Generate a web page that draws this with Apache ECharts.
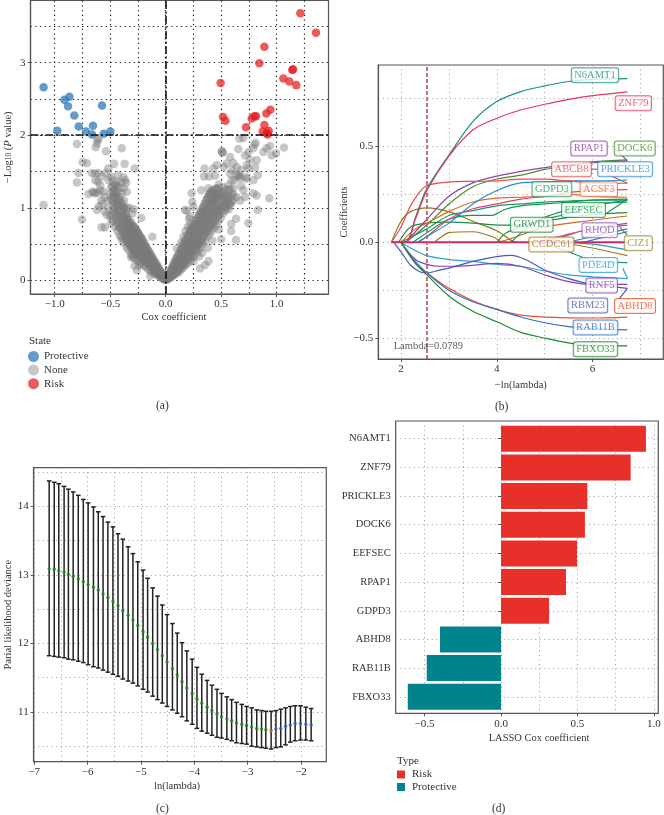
<!DOCTYPE html>
<html><head><meta charset="utf-8">
<style>html,body{margin:0;padding:0;background:#fff}#c{width:664px;height:815px}</style>
<script src="https://cdn.jsdelivr.net/npm/echarts@6/dist/echarts.min.js"></script>
</head><body><div id="c"></div>
<script>
const SERIF = '"Liberation Serif","DejaVu Serif",serif';

// ---------- (a) volcano ----------
const protectivePts = [[-1.10,2.66],[-.976,2.06],[-.913,2.49],[-.868,2.53],[-.88,2.40],[-.823,2.27],[-.784,2.12],[-.718,2.05],[-.655,2.13],[-.664,2.01],[-.574,2.41],[-.559,2.02],[-.498,2.05]];
const riskPts = [[1.213,3.68],[1.354,3.41],[.889,3.22],[.844,2.99],[1.147,2.91],[1.141,2.90],[1.06,2.78],[1.114,2.74],[1.177,2.69],[.495,2.72],[.943,2.35],[.907,2.30],[.517,2.25],[.538,2.20],[.775,2.23],[.799,2.26],[.814,2.26],[.724,2.11],[.889,2.14],[.928,2.06],[.874,2.05],[.919,2.01],[.91,2.03]];
const noneLeftRows = [[-.01,[.01,.02,.03]],[-.02,[.02,.04,.06]],[-.03,[.03,.06,.08]],[-.04,[.05,.08,.11]],[-.05,[.06,.1,.13]],[-.06,[.08,.12,.16]],[-.07,[.08,.13,.18]],[-.08,[.1,.15,.2]],[-.09,[.12,.18,.23]],[-.1,[.13,.2,.25]],[-.11,[.14,.22,.28]],[-.12,[.16,.24,.3]],[-.13,[.18,.26,.33]],[-.14,[.2,.29,.36]],[-.15,[.22,.31,.39]],[-.16,[.24,.33,.41]],[-.17,[.25,.36,.44]],[-.18,[.27,.38,.47]],[-.19,[.26,.33,.4,.49]],[-.2,[.28,.36,.44,.52]],[-.21,[.3,.38,.46,.55]],[-.22,[.32,.41,.49,.58]],[-.23,[.34,.43,.52,.6]],[-.24,[.36,.45,.54,.63]],[-.25,[.33,.4,.48,.56,.66]],[-.26,[.35,.43,.51,.59,.68]],[-.27,[.38,.46,.54,.62,.7]],[-.28,[.4,.48,.56,.64,.73]],[-.29,[.42,.5,.58,.67,.75]],[-.3,[.36,.44,.53,.61,.7]],[-.31,[.46,.56,.64,.73,.8]],[-.32,[.48,.58,.67,.76]],[-.33,[.5,.6,.7,.79]],[-.34,[.52,.63,.73,.83]],[-.35,[.55,.66,.76,.87]],[-.36,[.58,.69,.8,.92]],[-.37,[.6,.72,.84,.98]],[-.38,[.65,.78,.9]],[-.39,[.7,.85,1.0]],[-.4,[.72,.88,1.05]],[-.42,[.82,.95,1.1]],[-.44,[.9,1.05,1.15]],[-.45,[.85,1.2]],[-.46,[1.0,1.08,1.28]],[-.47,[.95,1.15]],[-.48,[1.1,1.3]]];
const noneLeftExtra = [[-.015,[.015,.05]],[-.035,[.04,.1]],[-.055,[.05,.09,.15]],[-.075,[.07,.11,.17,.21]],[-.095,[.09,.15,.2,.26]],[-.115,[.1,.18,.25,.31]],[-.135,[.13,.21,.28,.36]],[-.155,[.15,.24,.32,.41]],[-.175,[.18,.27,.35,.45]],[-.195,[.2,.29,.38,.47,.53]],[-.215,[.22,.32,.41,.5,.58]],[-.235,[.25,.34,.44,.54,.62]],[-.255,[.27,.37,.47,.57,.67]],[-.275,[.3,.4,.5,.6,.7]],[-.295,[.32,.43,.53,.64,.74]],[-.315,[.36,.47,.58,.68,.78]],[-.335,[.42,.52,.63,.74,.84]],[-.355,[.46,.58,.68,.8,.9,1.0]],[-.375,[.52,.64,.76,.88,1.0,1.1]],[-.395,[.56,.7,.82,.95,1.08,1.2]],[-.415,[.62,.76,.9,1.02,1.15,1.28]],[-.435,[.68,.82,.96,1.1,1.22]],[-.455,[.74,.92,1.05,1.18,1.32]],[-.475,[.82,1.0,1.2]],[-.49,[.9,1.12,1.28]]];
const noneLeftSparse = [[-.80,1.88],[-.615,1.93],[-.604,1.95],[-.62,1.885],[-.63,1.835],[-.538,1.78],[-.396,1.82],[-.748,1.63],[-.71,1.615],[-.465,1.605],[-.37,1.605],[-.517,1.54],[-.28,1.54],[-.787,1.48],[-.80,1.35],[-1.10,1.04],[-.754,.84],[-.577,.73],[-.547,.73],[-.665,1.48],[-.635,1.47],[-.61,1.48],[-.635,1.38],[-.61,1.36],[-.575,1.43],[-.54,1.48],[-.495,1.43],[-.515,1.38],[-.59,1.31],[-.695,1.19],[-.66,1.22],[-.645,1.21],[-.635,1.2],[-.615,1.21],[-.59,1.24],[-.56,1.22],[-.44,1.3],[-.365,1.38],[-.355,1.34],[-.38,1.27],[-.35,1.22],[-.44,1.36],[-.46,1.24],[-.43,1.03],[-.55,.95],[-.52,1.0],[-.5,.88],[-.49,.8],[-.57,1.05],[-.53,.9],[-.33,1.0],[-.29,.98],[-.22,.86],[-.3,.92],[-.12,.6],[-.26,.14],[-.28,.2],[-.31,.32],[-.14,.06],[-.24,.22],[-.4,.6],[-.42,.72],[-.44,.78],[-.58,1.1],[-.6,1.02],[-.62,.97],[-.52,1.1],[-.55,1.15],[-.5,1.2],[-.48,1.38],[-.43,1.45],[-.4,1.35],[-.38,1.42]];
const noneRightRows = [[.01,[.01,.02,.03]],[.02,[.02,.04,.06]],[.03,[.03,.06,.09]],[.04,[.05,.09,.12]],[.05,[.06,.1,.15]],[.06,[.07,.13,.18]],[.07,[.08,.15,.21]],[.08,[.1,.17,.24]],[.09,[.11,.19,.27]],[.1,[.12,.21,.3]],[.11,[.14,.23,.33]],[.12,[.15,.26,.36]],[.13,[.17,.28,.39]],[.14,[.19,.31,.42]],[.15,[.2,.33,.45]],[.16,[.22,.36,.48]],[.17,[.24,.38,.51]],[.18,[.26,.41,.54]],[.19,[.28,.43,.57]],[.2,[.3,.38,.46,.6]],[.21,[.32,.41,.49,.63]],[.22,[.34,.43,.52,.66]],[.23,[.36,.46,.55,.68]],[.24,[.38,.48,.58,.7]],[.25,[.4,.51,.61,.73]],[.26,[.42,.53,.64,.76]],[.27,[.44,.56,.67,.79]],[.28,[.46,.58,.7,.82]],[.29,[.48,.61,.73,.85]],[.3,[.5,.63,.76,.88]],[.31,[.52,.66,.79,.91]],[.32,[.54,.68,.82,.95]],[.33,[.56,.71,.85,.98]],[.34,[.6,.74,.88,1.01]],[.35,[.63,.77,.91,1.05]],[.36,[.66,.8,.94,1.08]],[.37,[.68,.83,.97,1.12]],[.38,[.7,.86,1.0,1.15]],[.39,[.72,.88,1.03,1.18]],[.4,[.74,.9,1.05,1.2]],[.41,[.76,.92,1.07,1.22]],[.42,[.78,.94,1.09,1.24]],[.43,[.8,.96,1.1,1.2]],[.44,[.82,.98,1.12]],[.45,[.85,1.0,1.14]],[.46,[.88,1.02,1.16]],[.47,[.9,1.04,1.18]],[.48,[.92,1.06,1.2]],[.5,[.95,1.1,1.22]],[.52,[1.0,1.12]],[.54,[1.05,1.15]],[.56,[1.1,1.18]]];
const noneRightExtra = [[.015,[.015,.05]],[.035,[.04,.11]],[.055,[.05,.11,.17]],[.075,[.07,.13,.2,.25]],[.095,[.09,.17,.24,.31]],[.115,[.11,.2,.28,.36]],[.135,[.14,.24,.33,.43]],[.155,[.17,.28,.38,.5]],[.175,[.2,.32,.44,.56]],[.195,[.23,.35,.49,.62]],[.215,[.26,.4,.54,.68]],[.235,[.3,.44,.58,.73]],[.255,[.33,.48,.63,.78]],[.275,[.37,.52,.68,.84]],[.295,[.41,.56,.72,.9]],[.315,[.45,.6,.76,.94]],[.335,[.5,.66,.82,1.0]],[.355,[.55,.72,.88,1.06]],[.375,[.6,.78,.94,1.12]],[.395,[.64,.82,1.0,1.18]],[.415,[.68,.86,1.04,1.22]],[.435,[.72,.9,1.08,1.25]],[.455,[.76,.94,1.12,1.26]],[.475,[.82,.98,1.16,1.27]],[.495,[.86,1.02,1.18]],[.515,[.92,1.06,1.2]],[.535,[.96,1.1,1.24]],[.555,[1.0,1.14]],[.58,[1.04,1.16,1.26]],[.6,[1.08,1.2]]];
const noneRightSparse = [[.31,.165],[.355,.21],[.385,.265],[.1,.44],[.634,.555],[.59,.68],[.59,.775],[.634,.85],[.745,.79],[.83,.97],[.934,1.13],[.5,.565],[.175,.97],[.19,.96],[.235,1.2],[.24,1.08],[.22,.88],[.21,.85],[.25,1.01],[.32,1.24],[.35,1.54],[.43,1.54],[.46,1.59],[.345,1.43],[.39,1.43],[.445,1.44],[.385,1.27],[.46,1.27],[.515,1.77],[.505,1.78],[.51,1.76],[.525,1.565],[.55,1.61],[.58,1.7],[.58,1.47],[.595,1.38],[.565,1.31],[.61,1.27],[.64,1.45],[.66,1.45],[.675,1.41],[.655,1.43],[.73,1.4],[.79,1.38],[.805,1.56],[.82,1.655],[.745,1.54],[.73,1.59],[.64,1.56],[.664,1.95],[.7,1.96],[.655,1.81],[.745,1.77],[.715,1.72],[.79,1.82],[.81,1.895],[.8,1.87],[.88,1.77],[.91,1.82],[.94,1.85],[.955,1.725],[.994,1.75],[1.066,1.83],[.82,1.17],[.79,1.2],[.7,1.24],[.715,1.15],[.64,1.15],[.67,1.1],[.61,1.17],[.58,1.06],[.54,1.02],[.57,.98],[.6,1.1],[.56,1.25],[.52,1.28],[.48,1.32],[.68,1.3],[.72,1.42],[.62,1.38],[.68,1.52],[.76,1.66],[.83,1.45],[.6,1.52],[.61,1.62],[.16,.6],[.18,.68],[.2,.74],[.22,.78],[.14,.52],[.25,.26],[.3,.33],[.33,.38],[.38,.45],[.42,.55],[.48,.7]];

// ---------- (b) LASSO paths ----------
const pathN6AMT1 = [[1.8,0],[2.1,0],[2.3,.13],[2.54,.28],[3,.455],[3.5,.63],[4,.734],[4.5,.786],[5,.816],[5.5,.839],[6,.85],[6.725,.854]];
const pathZNF79 = [[1.8,0],[2.1,0],[2.3,.12],[2.54,.27],[3,.45],[3.5,.586],[4,.647],[4.5,.69],[5,.72],[5.5,.746],[6,.765],[6.725,.785]];
const pathABCB8 = [[1.8,0],[2,.08],[2.2,.19],[2.4,.265],[2.54,.295],[3,.315],[3.5,.318],[4,.32],[4.5,.33],[5,.33],[5.5,.32],[6,.31],[6.725,.308]];
const pathRPAP1 = [[2.1,0],[2.54,.12],[3,.24],[3.5,.31],[4,.345],[4.5,.37],[5,.39],[5.5,.405],[6,.415],[6.725,.425]];
const pathDOCK6 = [[2.1,0],[2.54,.09],[3,.2],[3.5,.29],[4,.33],[4.5,.35],[5,.38],[5.5,.40],[6,.42],[6.725,.43]];
const pathPRICKLE3 = [[2.35,0],[2.54,.03],[3,.10],[3.5,.2],[4,.27],[4.5,.31],[5,.315],[5.5,.32],[6,.32],[6.725,.325]];
const pathACSF3 = [[2,0],[2.3,.07],[2.54,.10],[3,.16],[3.5,.21],[4,.23],[4.5,.235],[5,.24],[5.5,.25],[6,.24],[6.725,.235]];
const pathPink = [[2.35,0],[2.54,.03],[3,.12],[3.5,.175],[4,.2],[4.5,.225],[5,.24],[5.5,.26],[6,.27],[6.725,.275]];
const pathGDPD3 = [[2,0],[2.54,.07],[3,.14],[3.5,.165],[4,.19],[4.5,.2],[5,.21],[5.5,.215],[6,.22],[6.725,.22]];
const pathEEFSEC = [[2.25,0],[2.54,.05],[3,.12],[3.5,.14],[3.9,.14],[4.15,.17],[4.5,.19],[5,.2],[5.5,.21],[6,.22],[6.725,.225]];
const pathGRWD1 = [[1.95,0],[2.2,.08],[2.54,.10],[3,.105],[3.5,.10],[4,.09],[4.5,.09],[5,.11],[5.5,.13],[6,.145],[6.725,.155]];
const pathOlive = [[1.8,0],[2,.11],[2.2,.16],[2.54,.18],[3,.16],[3.5,.11],[4,.06],[4.3,.01],[4.4,0]];
const pathBrownA = [[2.7,0],[2.85,.03],[3,.05],[3.5,.055],[3.9,.03],[4.1,0]];
const pathCCDC61 = [[5.3,0],[6,-.03],[6.725,-.07]];
const pathOrangeB = [[4,0],[4.3,.02],[5,.08],[6,.115],[6.725,.137]];
const pathGreenB = [[4,0],[4.2,.05],[4.6,.09],[5,.12],[5.5,.15],[6,.19],[6.725,.22]];
const pathGreenC = [[4.3,0],[4.6,.07],[5,.13],[5.5,.17],[6,.2],[6.725,.21]];
const pathRHOD = [[5,0],[5.4,.03],[5.8,.06],[6.725,.10]];
const pathPinkB = [[4.8,0],[5.3,.03],[5.8,.06],[6.725,.09]];
const pathTealB = [[5.5,0],[6,.03],[6.725,.07]];
const pathNavy = [[5.8,0],[6.725,.055]];
const pathTealC = [[5.5,0],[6,-.01],[6.725,-.04]];
const pathPDE4Dg = [[4.9,0],[5.5,-.05],[6,-.095],[6.725,-.106]];
const pathPDE4D = [[2,0],[2.2,-.03],[2.54,-.07],[3,-.09],[3.5,-.10],[4,-.115],[4.5,-.125],[5,-.15],[5.5,-.17],[6,-.18],[6.725,-.19]];
const pathRNF5 = [[2,0],[2.3,-.09],[2.54,-.115],[2.8,-.125],[3,-.125],[3.5,-.12],[4,-.11],[4.5,-.125],[5,-.17],[5.5,-.205],[6,-.22],[6.725,-.22]];
const pathRBM23 = [[1.85,0],[2,-.05],[2.2,-.12],[2.4,-.155],[2.54,-.16],[2.8,-.145],[3,-.135],[3.5,-.10],[4,-.075],[4.3,-.068],[4.6,-.09],[5,-.145],[5.5,-.19],[6,-.22],[6.725,-.24]];
const pathABHD8 = [[2,0],[2.3,-.11],[2.54,-.16],[3,-.24],[3.5,-.305],[4,-.35],[4.5,-.38],[5,-.39],[6,-.395],[6.725,-.39]];
const pathRAB11B = [[2,0],[2.3,-.10],[2.54,-.16],[3,-.25],[3.5,-.31],[4,-.35],[4.5,-.39],[5,-.42],[5.5,-.44],[6,-.45],[6.725,-.457]];
const pathFBXO33 = [[2,0],[2.3,-.11],[2.54,-.17],[3,-.28],[3.5,-.36],[4,-.415],[4.5,-.47],[5,-.50],[5.5,-.525],[6,-.54],[6.725,-.54]];
const pathZero = [[1.8,0],[6.725,0]];
const pathsB = [
 [pathOlive,'#8a7a1a'],[pathBrownA,'#a8741a'],[pathCCDC61,'#a8741a'],[pathOrangeB,'#d8641a'],[pathGreenB,'#2f8f3a'],[pathGreenC,'#1a9a5a'],[pathRHOD,'#8a5ab0'],[pathPinkB,'#e0407a'],[pathTealB,'#1a8aa8'],[pathNavy,'#3a5ab8'],[pathTealC,'#2a9ab0'],[pathPDE4Dg,'#1f9a6a'],
 [pathGRWD1,'#1e8a45'],[pathEEFSEC,'#0f9a4a'],[pathGDPD3,'#1a9a5a'],[pathPink,'#e0407a'],[pathACSF3,'#e8642a'],[pathPRICKLE3,'#2a8cd8'],[pathDOCK6,'#4a8a2a'],[pathRPAP1,'#8e44ad'],[pathABCB8,'#e84a4a'],[pathN6AMT1,'#1a9088'],[pathZNF79,'#e8365c'],
 [pathPDE4D,'#2ea0d8'],[pathRNF5,'#8a44a8'],[pathRBM23,'#4a58b8'],[pathABHD8,'#f0502a'],[pathRAB11B,'#2a70c8'],[pathFBXO33,'#1f8a2a']];
const leadersB = [[[6.5,.482],[6.725,.425],'#8e44ad'],[[6.29,.357],[6.725,.308],'#e84a4a'],[[5.98,.381],[6.1,.381],'#e84a4a'],[[6.63,-.136],[6.725,-.188],'#2ea0d8'],[[6.725,-.24],[6.54,-.30],'#4a58b8'],[[6.29,.151],[6.725,.224],'#0f9a4a'],[[6.56,.082],[6.725,.038],'#8a8a2a']];
const geneLabels = [['N6AMT1',6.05,.872,'#1a9088'],['ZNF79',6.85,.725,'#e8365c'],['RPAP1',5.925,.489,'#8e44ad'],['DOCK6',6.88,.489,'#4a8a2a'],['ABCB8',5.56,.381,'#e84a4a'],['PRICKLE3',6.68,.381,'#2a8cd8'],['GDPD3',5.15,.277,'#1a9a5a'],['ACSF3',6.13,.277,'#e8642a'],['EEFSEC',5.81,.169,'#0f9a4a'],['GRWD1',4.73,.092,'#1e8a45'],['RHOD',6.15,.063,'#8a5ab0'],['CIZ1',6.955,-.005,'#8a8a2a'],['CCDC61',5.14,-.012,'#a8741a'],['PDE4D',6.12,-.118,'#2ea0d8'],['RNF5',6.19,-.226,'#8a44a8'],['RBM23',5.90,-.33,'#4a58b8'],['ABHD8',6.885,-.332,'#f0502a'],['RAB11B',6.06,-.444,'#2a70c8'],['FBXO33',6.06,-.558,'#1f8a2a']];

// ---------- (c) cross-validation ----------
const cvX = [-6.72,-6.625,-6.54,-6.44,-6.36,-6.27,-6.175,-6.08,-5.99,-5.89,-5.80,-5.71,-5.62,-5.525,-5.43,-5.34,-5.24,-5.15,-5.06,-4.96,-4.875,-4.78,-4.69,-4.60,-4.51,-4.41,-4.32,-4.23,-4.14,-4.04,-3.95,-3.86,-3.76,-3.67,-3.575,-3.49,-3.39,-3.30,-3.21,-3.11,-3.02,-2.925,-2.83,-2.74,-2.66,-2.56,-2.47,-2.38,-2.29,-2.20,-2.11,-2.01,-1.91,-1.81];
const cvUpper = [14.37,14.35,14.33,14.29,14.25,14.21,14.16,14.10,14.05,13.99,13.92,13.85,13.77,13.70,13.60,13.52,13.41,13.31,13.19,13.07,12.95,12.81,12.69,12.56,12.42,12.29,12.15,12.01,11.89,11.77,11.65,11.55,11.46,11.39,11.33,11.27,11.22,11.18,11.14,11.11,11.08,11.06,11.03,11.02,11.01,11.01,11.02,11.04,11.06,11.08,11.09,11.09,11.07,11.05];
const cvMean = [13.09,13.08,13.06,13.04,13.01,12.98,12.94,12.90,12.86,12.82,12.78,12.72,12.67,12.61,12.55,12.48,12.41,12.34,12.26,12.17,12.09,12.0,11.91,11.82,11.73,11.63,11.54,11.44,11.35,11.27,11.19,11.13,11.07,11.02,10.97,10.93,10.90,10.87,10.84,10.82,10.80,10.78,10.76,10.75,10.74,10.73,10.75,10.76,10.79,10.81,10.83,10.83,10.82,10.81];
const cvLower = [11.82,11.81,11.80,11.79,11.77,11.76,11.74,11.72,11.69,11.66,11.64,11.61,11.58,11.55,11.52,11.48,11.45,11.42,11.38,11.33,11.29,11.23,11.18,11.13,11.08,11.03,10.98,10.93,10.87,10.82,10.76,10.72,10.69,10.66,10.63,10.62,10.60,10.58,10.55,10.54,10.53,10.50,10.49,10.48,10.47,10.46,10.48,10.49,10.52,10.56,10.58,10.59,10.59,10.58];
const cvMinIndex = 45;

// ---------- (d) LASSO coefficients ----------
const lassoGenes = ['N6AMT1','ZNF79','PRICKLE3','DOCK6','EEFSEC','RPAP1','GDPD3','ABHD8','RAB11B','FBXO33'];
const lassoRisk = [.948,.848,.565,.549,.497,.425,.314,null,null,null];
const lassoProtective = [null,null,null,null,null,null,null,-.399,-.486,-.61];

// ---------- helpers ----------
const expand = rows => rows.flatMap(([x, ys]) => ys.map(y => [x, y]));
const noneAll = [...noneLeftSparse, ...noneRightSparse, ...expand(noneLeftRows), ...expand(noneLeftExtra), ...expand(noneRightRows), ...expand(noneRightExtra)];
const FRAME = '#555';
const txt = (s = 11) => ({ fontFamily: SERIF, fontSize: s, color: '#333' });
const dot = (c, w, d) => ({ show: true, lineStyle: { type: d, color: c, width: w } });
const strong = dot('#222', 1.2, [1.3, 3.4]);
const soft = dot('#9a9a9a', 1, [1, 3.5]);

function major(gridIndex, min, max, ticks, split, extra) {
  return Object.assign({
    type: 'value', gridIndex, min, max, scale: true,
    axisLine: { show: true, onZero: false, lineStyle: { color: FRAME, width: 1.2 } },
    axisTick: { show: true, length: 3, customValues: ticks, lineStyle: { color: FRAME } },
    axisLabel: Object.assign(txt(), { customValues: ticks, margin: 5, showMinLabel: true, showMaxLabel: true, hideOverlap: false }),
    splitLine: split
  }, extra || {});
}
function minor(gridIndex, min, max, ticks, split) {
  return { type: 'value', gridIndex, min, max, scale: true, axisLine: { show: false },
    axisTick: { show: false, customValues: ticks }, axisLabel: { show: false, customValues: ticks }, splitLine: split };
}
const xName = (name, gap, pad) => ({ name, nameLocation: 'middle', nameGap: gap, nameTextStyle: Object.assign(txt(10.5), { padding: pad }) });
const yName = (name, gap, rich) => ({ name, nameLocation: 'middle', nameGap: gap, nameTextStyle: Object.assign(txt(10.5), rich ? { rich } : {}) });
const fmt1 = v => v.toFixed(1).replace('-', '−');

const RA = { a: txt(10.5), s: Object.assign(txt(7.5), { verticalAlign: 'bottom' }), i: Object.assign(txt(10.5), { fontStyle: 'italic' }) };

const xAxis = [
  major(0, -1.218, 1.467, [-1, -.5, 0, .5, 1], strong, xName('Cox coefficient', 18, [0, 11, 0, 0])),
  minor(0, -1.218, 1.467, [-.75, -.25, .25, .75, 1.25], strong),
  major(1, 1.526, 7.476, [2, 4, 6], soft, xName('−ln(lambda)', 21, [0, 0, 0, 0])),
  minor(1, 1.526, 7.476, [3, 5, 7], soft),
  major(2, -7.01, -1.526, [-7, -6, -5, -4, -3, -2], soft, xName('ln(lambda)', 19, [0, 6, 0, 0])),
  minor(2, -7.01, -1.526, [-6.5, -5.5, -4.5, -3.5, -2.5], soft),
  major(3, -.689, 1.029, [-.5, 0, .5, 1], soft, xName('LASSO Cox coefficient', 19, [0, 0, 0, 24])),
  minor(3, -.689, 1.029, [-.25, .25, .75], soft),
  { type: 'value', gridIndex: 4, min: -.689, max: 1.029, show: false }
];
xAxis[0].axisLabel.formatter = fmt1;
xAxis[6].axisLabel.formatter = fmt1;
xAxis[2].axisLabel.formatter = v => String(v);
xAxis[4].axisLabel.formatter = v => String(v).replace('-', '−');

const yAxis = [
  major(0, -.188, 3.856, [0, 1, 2, 3], strong, yName('{a|−Log}{s|10}{a| (}{i|P}{a| value)}', 17, RA)),
  minor(0, -.188, 3.856, [.5, 1.5, 2.5, 3.5], strong),
  major(1, -.609, .925, [-.5, 0, .5], soft, yName('Coefficients', 19)),
  minor(1, -.609, .925, [-.25, .25, .75], soft),
  major(2, 10.274, 14.563, [11, 12, 13, 14], soft, yName('Parial likelihood deviance', 15)),
  minor(2, 10.274, 14.563, [10.5, 11.5, 12.5, 13.5, 14.5], soft),
  { type: 'value', gridIndex: 3, min: 0, max: 1, show: false },
  { type: 'category', gridIndex: 4, inverse: true, data: lassoGenes,
    axisLine: { show: false }, axisTick: { show: true, length: 3, alignWithLabel: true, lineStyle: { color: FRAME } },
    axisLabel: Object.assign(txt(10.5), { margin: 5 }),
    splitLine: Object.assign({ alignWithLabel: true }, soft) }
];
yAxis[0].axisLabel.formatter = v => String(v);
yAxis[2].axisLabel.formatter = v => fmt1(v);
yAxis[4].axisLabel.formatter = v => String(v);

const series = [
  { name: 'None', type: 'scatter', xAxisIndex: 0, yAxisIndex: 0, symbolSize: 8.5, data: noneAll, itemStyle: { color: '#7a7a7a', opacity: .42 }, z: 2,
    markLine: { silent: true, symbol: 'none', label: { show: false }, animation: false,
      lineStyle: { color: '#111', width: 1.6, type: [8, 2.5, 2, 2.5] }, data: [{ yAxis: 2 }, { xAxis: 0 }] } },
  { name: 'Protective', type: 'scatter', xAxisIndex: 0, yAxisIndex: 0, symbolSize: 8.5, data: protectivePts, itemStyle: { color: '#2f78b7', opacity: .75 }, z: 3 },
  { name: 'Risk', type: 'scatter', xAxisIndex: 0, yAxisIndex: 0, symbolSize: 8.5, data: riskPts, itemStyle: { color: '#e41a1c', opacity: .72 }, z: 3 }
];
pathsB.forEach(([data, color]) => series.push({
  type: 'line', xAxisIndex: 2, yAxisIndex: 2, data, showSymbol: false, smooth: .3, animation: false,
  lineStyle: { color, width: 1.2 }, itemStyle: { color }, z: 3
}));
series.push({ type: 'line', xAxisIndex: 2, yAxisIndex: 2, data: pathZero, showSymbol: false, lineStyle: { color: '#cc2a6a', width: 2 }, z: 3,
  markLine: { silent: true, symbol: 'none', label: { show: false }, animation: false, lineStyle: { color: '#b5666f', width: 1.8, type: [4, 2] }, data: [{ xAxis: 2.54 }] } });
series.push({ type: 'custom', xAxisIndex: 2, yAxisIndex: 2, z: 3, silent: true, data: leadersB.map((l, i) => [l[0][0], l[0][1], l[1][0], l[1][1], i]),
  encode: { x: [0, 2], y: [1, 3] },
  renderItem: (p, api) => {
    const a = api.coord([api.value(0), api.value(1)]), b = api.coord([api.value(2), api.value(3)]);
    return { type: 'line', shape: { x1: a[0], y1: a[1], x2: b[0], y2: b[1] }, style: { stroke: leadersB[api.value(4)][2], lineWidth: 1.2 } };
  } });
series.push({ type: 'scatter', xAxisIndex: 2, yAxisIndex: 2, symbolSize: 0, z: 6, silent: true,
  data: geneLabels.map(g => ({ value: [g[1], g[2]], name: g[0],
    label: { show: true, position: 'inside', formatter: g[0], fontFamily: SERIF, fontSize: 10.5, color: g[3],
      backgroundColor: '#fff', borderColor: g[3], borderWidth: 1, borderRadius: 2, padding: [2, 2.5, 1, 2.5] } })) });
series.push({ type: 'scatter', xAxisIndex: 2, yAxisIndex: 2, symbolSize: 0, z: 6, silent: true,
  data: [{ value: [2.57, -.541], label: { show: true, position: 'inside', formatter: 'Lambda=0.0789', fontFamily: SERIF, fontSize: 10.5, color: '#333' } }] });

series.push({ type: 'custom', xAxisIndex: 4, yAxisIndex: 4, z: 3, silent: true,
  data: cvX.map((x, i) => [x, cvLower[i], cvUpper[i]]), encode: { x: 0, y: [1, 2] },
  renderItem: (p, api) => {
    const lo = api.coord([api.value(0), api.value(1)]), hi = api.coord([api.value(0), api.value(2)]);
    const s = { stroke: '#222', lineWidth: 1.5 };
    const seg = (x1, y1, x2, y2) => ({ type: 'line', shape: { x1, y1, x2, y2 }, style: s });
    return { type: 'group', children: [seg(lo[0], lo[1], hi[0], hi[1]), seg(lo[0] - 2.3, lo[1], lo[0] + 2.3, lo[1]), seg(hi[0] - 2.3, hi[1], hi[0] + 2.3, hi[1])] };
  } });
series.push({ type: 'scatter', xAxisIndex: 4, yAxisIndex: 4, symbolSize: 3.5, z: 4, silent: true,
  data: cvX.map((x, i) => ({ value: [x, cvMean[i]], itemStyle: { color: i === cvMinIndex ? '#f04040' : i > cvMinIndex ? '#2f5fc0' : '#1a8a1a' } })) });

series.push({ name: 'Risk ', type: 'bar', xAxisIndex: 8, yAxisIndex: 7, stack: 'd', barWidth: 26, data: lassoRisk, itemStyle: { color: '#e8302a' }, z: 3 });
series.push({ name: 'Protective ', type: 'bar', xAxisIndex: 8, yAxisIndex: 7, stack: 'd', barWidth: 26, data: lassoProtective, itemStyle: { color: '#00838a' }, z: 3 });

const panelTitle = (text, left, top, size) => ({ text, left, top, textAlign: 'left', textStyle: { fontFamily: SERIF, fontSize: size || 11, fontWeight: 'normal', color: '#333' }, padding: 0 });

const option = {
  animation: false,
  backgroundColor: '#fff',
  grid: [
    { left: 30.5, top: .5, width: 298, height: 293.5, show: true, borderColor: FRAME, borderWidth: 1.2 },
    { left: 378.3, top: 65, width: 285, height: 294, show: true, borderColor: FRAME, borderWidth: 1.2 },
    { left: 33.7, top: 467.7, width: 292.6, height: 294, show: true, borderColor: FRAME, borderWidth: 1.2 },
    { left: 395.7, top: 421, width: 262.6, height: 292.3, show: true, borderColor: FRAME, borderWidth: 1.2 },
    { left: 395.7, top: 424.4, width: 262.6, height: 286.7 }
  ],
  xAxis, yAxis, series,
  title: [
    panelTitle('State', 29, 336), panelTitle('Type', 397, 756),
    panelTitle('(a)', 156, 400, 11.5), panelTitle('(b)', 495, 400.5, 11.5), panelTitle('(c)', 156, 803, 11.5), panelTitle('(d)', 492, 803, 11.5)
  ],
  legend: [
    { left: 28, top: 351, orient: 'vertical', itemWidth: 11, itemHeight: 11, itemGap: 2.6, padding: 0, selectedMode: false, icon: 'circle',
      textStyle: txt(), data: ['Protective', 'None', 'Risk'] },
    { left: 397, top: 769, orient: 'vertical', itemWidth: 8, itemHeight: 8, itemGap: 1.5, padding: 0, selectedMode: false, icon: 'rect',
      textStyle: Object.assign(txt(), { padding: [0, 0, 0, 2] }), formatter: n => n.trim(), data: ['Risk ', 'Protective '] }
  ]
};
echarts.init(document.getElementById('c'), null, { renderer: 'canvas' }).setOption(option);
</script></body></html>
